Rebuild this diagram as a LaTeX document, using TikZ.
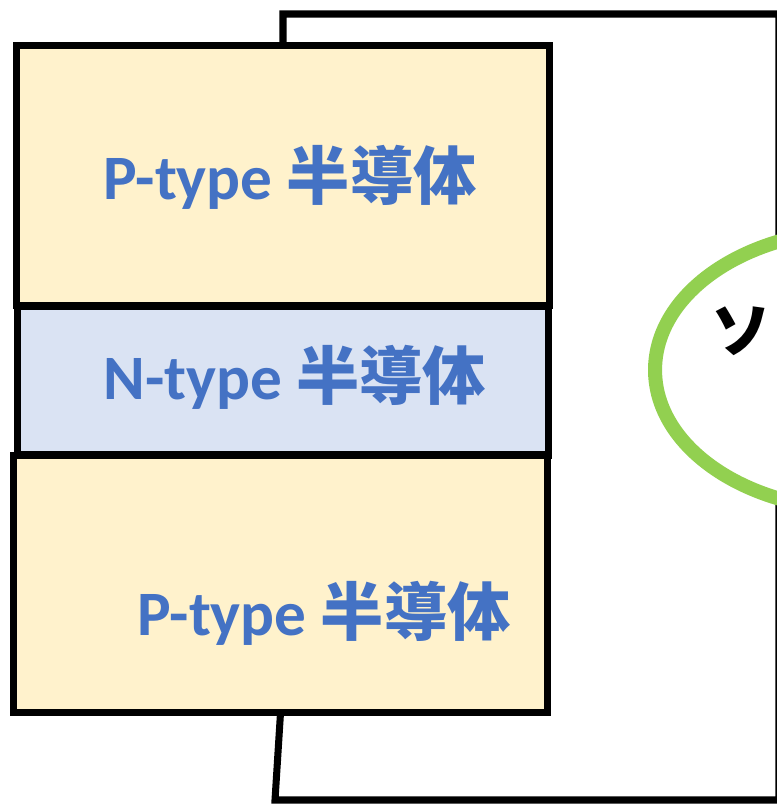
\documentclass[tikz,border=0pt]{standalone}
\usepackage{fontspec}
\setmainfont{Carlito}
\newfontfamily\cjk{Noto Sans CJK JP}
\usepackage{xcolor}
\usetikzlibrary{shapes.geometric,positioning}

\definecolor{ptypefill}{HTML}{FFF2CC}
\definecolor{ntypefill}{HTML}{DAE3F3}
\definecolor{lblblue}{HTML}{4472C4}
\definecolor{coilgreen}{HTML}{92D050}

\begin{document}
\begin{tikzpicture}[
  x=0.02cm, y=-0.02cm,
  layer/.style={draw, line width=4pt, inner sep=0pt, outer sep=0pt},
  ptype/.style={layer, fill=ptypefill},
  ntype/.style={layer, fill=ntypefill},
  lbl/.style={font=\fontsize{36}{40}\selectfont\bfseries, text=lblblue,
              anchor=base west, inner sep=0pt},
  wire/.style={line width=4pt, line join=miter},
  coil/.style={ellipse, draw=coilgreen, line width=8pt, fill=white,
               minimum width=8.2cm, minimum height=5.6cm}]

  \useasboundingbox (0,0) rectangle (777,806);
  \clip (0,0) rectangle (777,806);

  % circuit wire
  \coordinate (rTop) at (779,14);
  \coordinate (rBot) at (779,800);
  \coordinate (lBot) at (275,800);
  \draw[wire] (283,45) |- (rTop) -- (rBot) -- (lBot) -- (280.5,713);

  % semiconductor layers
  \node[ptype, minimum width=10.68cm, minimum height=5.22cm] (pTop) at (283,175.5) {};
  \node[ntype, minimum width=10.64cm, minimum height=2.98cm] (nMid) at (283,380.5) {};
  \node[ptype, minimum width=10.70cm, minimum height=5.16cm] (pBot) at (280.5,584) {};

  \node[lbl] (pTopLbl) at (103,199) {P-type {\cjk 半導体}};
  \node[lbl] (nMidLbl) at (103,399) {N-type {\cjk 半導体}};
  \node[lbl] (pBotLbl) at (137,635) {P-type {\cjk 半導体}};

  % coil
  \node[coil] (sol) at (860,370) {};
  \node[font=\cjk\fontsize{34}{40}\selectfont\bfseries, inner sep=0pt] (solLbl) at (741,331) {ソ};
\end{tikzpicture}
\end{document}
